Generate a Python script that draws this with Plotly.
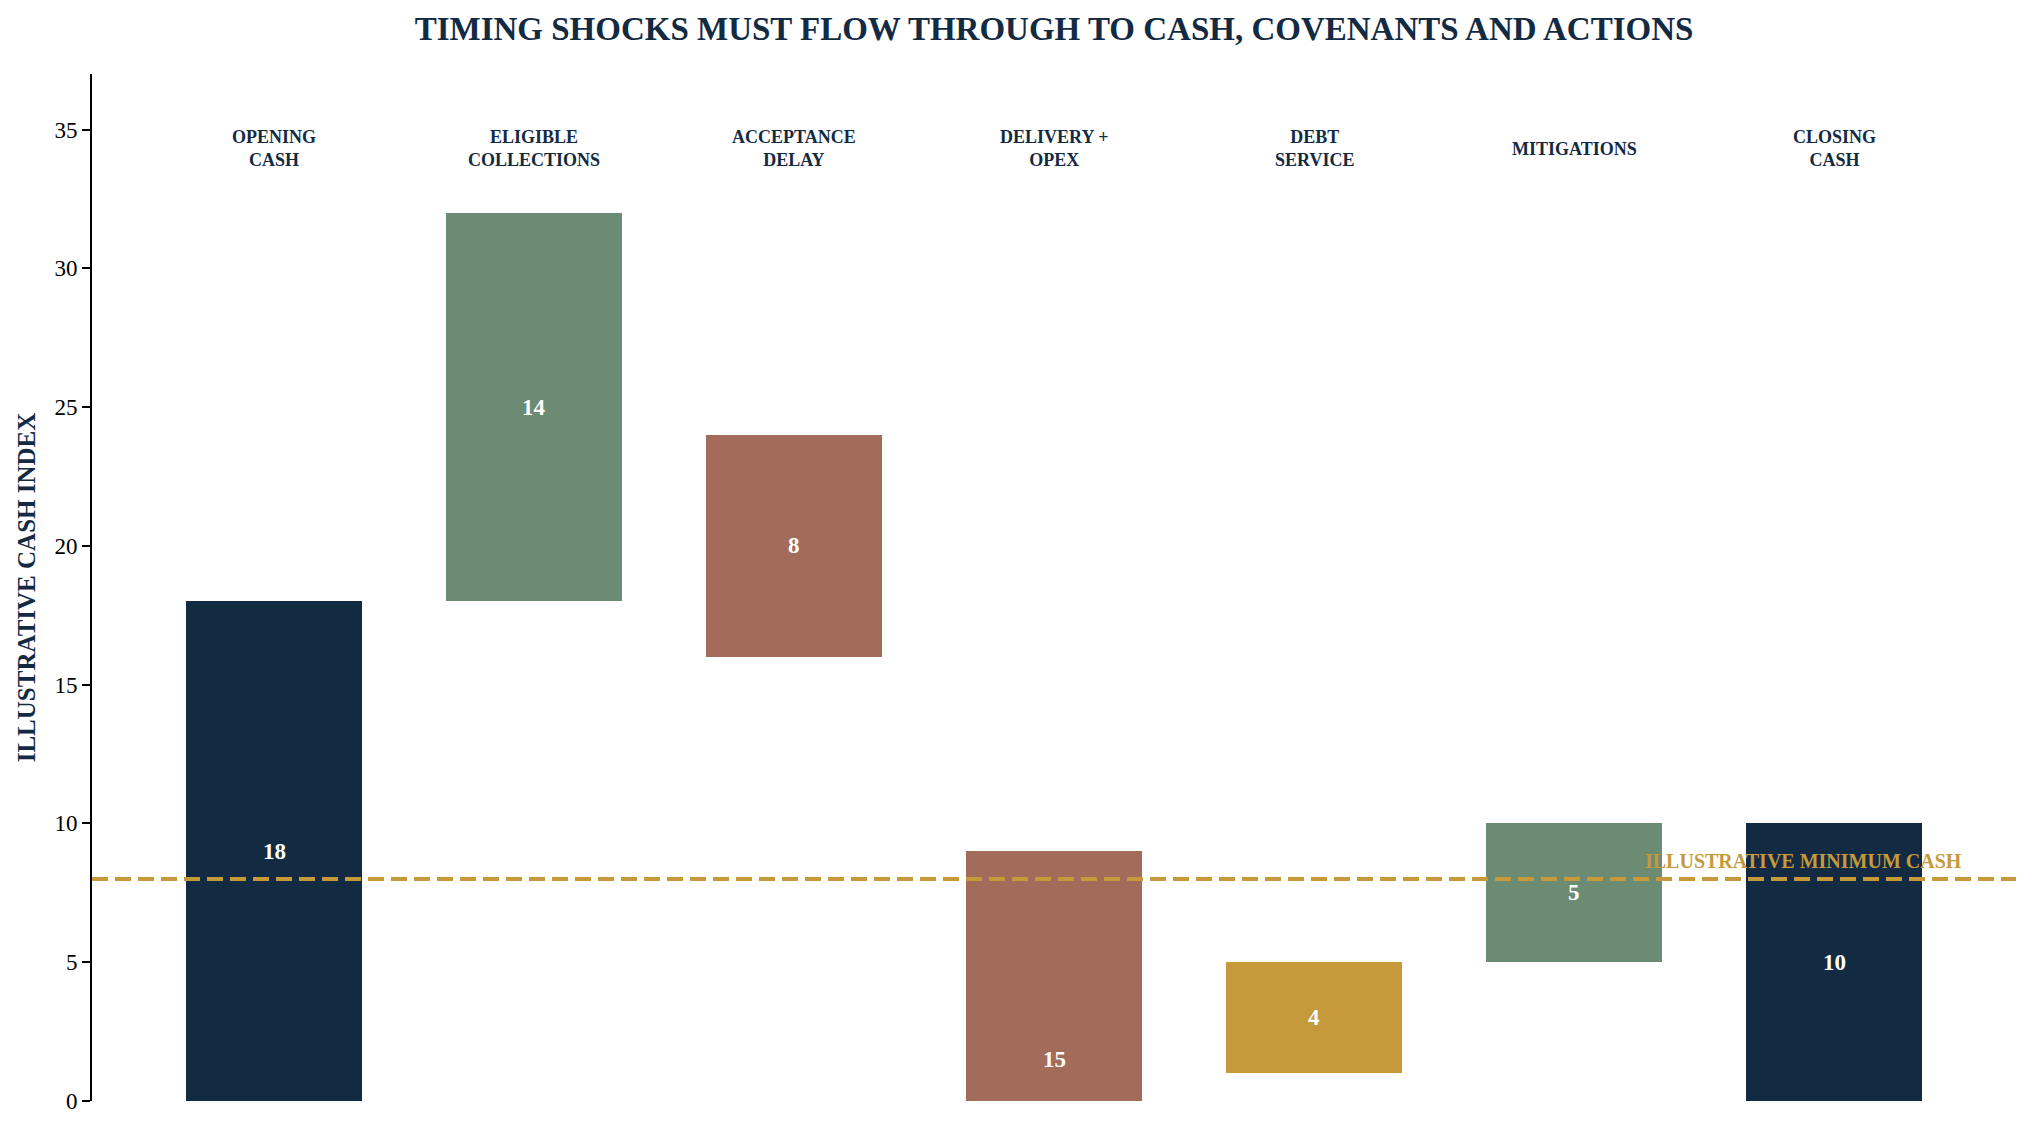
import plotly.graph_objects as go

# ---- data ----
categories = ["OPENING<br>CASH", "ELIGIBLE<br>COLLECTIONS", "ACCEPTANCE<br>DELAY",
              "DELIVERY +<br>OPEX", "DEBT<br>SERVICE", "MITIGATIONS", "CLOSING<br>CASH"]
values = [18, 14, -8, -15, -4, 5, 10]
kinds = ["total", "delta", "delta", "delta", "delta", "delta", "total"]
bar_colors = ["#132A43", "#6C8B73", "#A36B59", "#A36B59", "#C69A3B", "#6C8B73", "#132A43"]
min_cash = 8
min_cash_label = "ILLUSTRATIVE MINIMUM CASH"
title_text = "TIMING SHOCKS MUST FLOW THROUGH TO CASH, COVENANTS AND ACTIONS"
y_title = "ILLUSTRATIVE CASH INDEX"
y_ticks = [0, 5, 10, 15, 20, 25, 30, 35]

FONT = "Liberation Serif, Times New Roman, serif"
NAVY = "#132A43"
GOLD = "#C69A3B"

# bar bases (as drawn in the original: negative moves hang from running total + value)
bases = []
running = 0
for v, k in zip(values, kinds):
    if k == "total":
        bases.append(0)
        running = v
    elif v >= 0:
        bases.append(running)
        running += v
    else:
        bases.append(running + v)
        running += v

xs = list(range(len(categories)))

fig = go.Figure()
fig.add_trace(go.Bar(
    x=xs, y=values, base=bases, width=0.68,
    marker=dict(color=bar_colors, line=dict(width=0)),
    hoverinfo="skip", showlegend=False,
))

# minimum cash line
fig.add_trace(go.Scatter(
    x=[-0.7, len(categories) - 0.3], y=[min_cash, min_cash], mode="lines",
    line=dict(color=GOLD, width=4, dash="16px,7px"),
    hoverinfo="skip", showlegend=False,
))

annotations = []
# value labels inside bars
for x, b, v in zip(xs, bases, values):
    annotations.append(dict(
        x=x, y=b + v / 2, xref="x", yref="y", text=f"<b>{abs(v)}</b>",
        showarrow=False, font=dict(family=FONT, size=23, color="white"),
        xanchor="center", yanchor="middle",
    ))
# category labels at top
for x, c in zip(xs, categories):
    annotations.append(dict(
        x=x, y=34.3, xref="x", yref="y", text=f"<b>{c}</b>",
        showarrow=False, font=dict(family=FONT, size=18, color=NAVY),
        xanchor="center", yanchor="middle", align="center",
    ))
# minimum cash label
annotations.append(dict(
    x=len(categories) - 0.5, y=min_cash, xref="x", yref="y",
    text=f"<b>{min_cash_label}</b>", showarrow=False,
    font=dict(family=FONT, size=20, color=GOLD),
    xanchor="right", yanchor="bottom", yshift=5,
))

fig.update_layout(
    width=2034, height=1134,
    margin=dict(l=92, r=18, t=74, b=33),
    paper_bgcolor="white", plot_bgcolor="white",
    title=dict(text=f"<b>{title_text}</b>", x=0.5, xref="paper",
               y=1 - 28.5 / 1134, yref="container", yanchor="middle", xanchor="center",
               font=dict(family=FONT, size=33, color=NAVY)),
    font=dict(family=FONT, color="black"),
    annotations=annotations,
    bargap=0,
)
fig.update_xaxes(range=[-0.7, len(categories) - 0.3], visible=False, showgrid=False, zeroline=False)
fig.update_yaxes(
    range=[0, 37], tickvals=y_ticks, ticks="outside", ticklen=8, tickwidth=2, tickcolor="black",
    showline=True, linecolor="black", linewidth=2, showgrid=False, zeroline=False,
    tickfont=dict(family=FONT, size=23, color="black"),
    title=dict(text=f"<b>{y_title}</b>", font=dict(family=FONT, size=25, color=NAVY), standoff=12),
)

fig.write_html(
    "out.html",
    config={"displayModeBar": False},
    post_script="document.body.style.margin='0';document.body.style.overflow='hidden';",
)
